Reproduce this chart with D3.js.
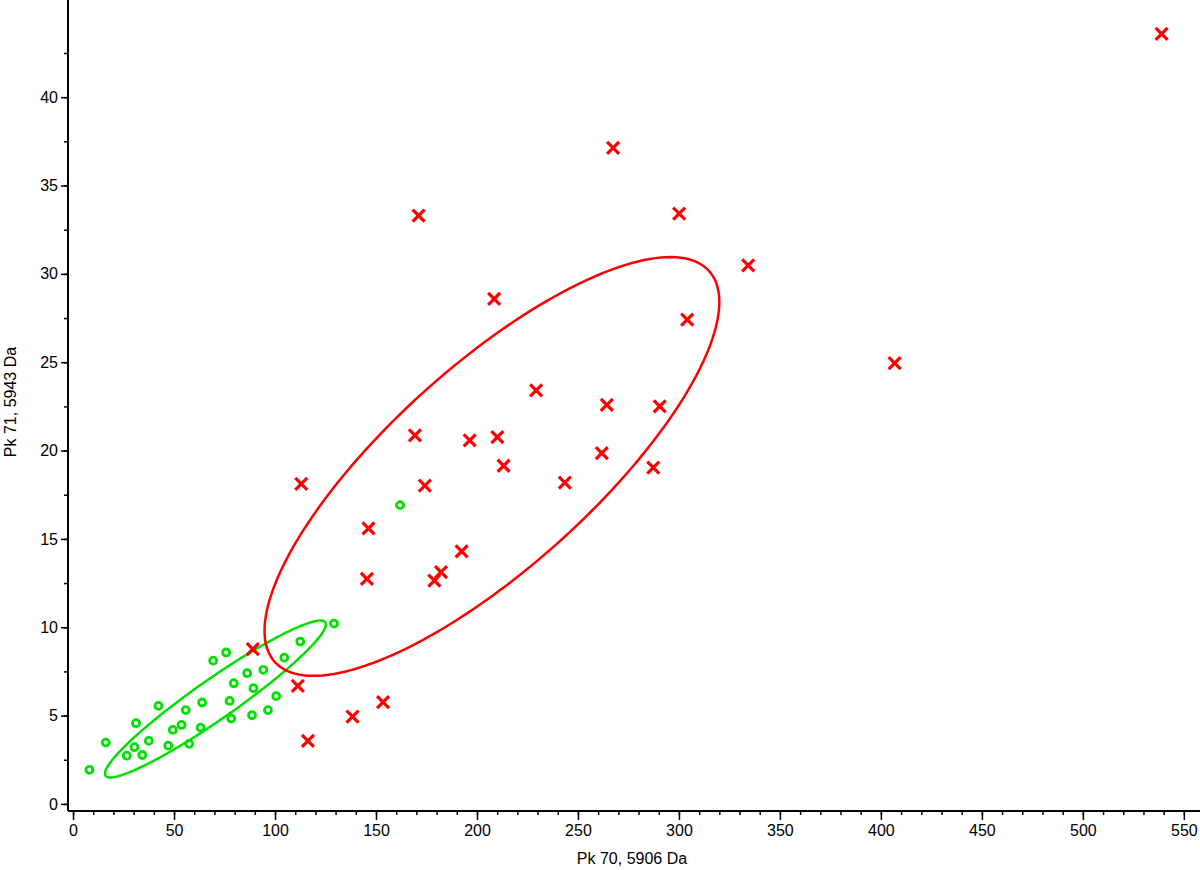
<!DOCTYPE html>
<html>
<head>
<meta charset="utf-8">
<script src="https://cdn.jsdelivr.net/npm/d3@7"></script>
<style>
  html, body { margin: 0; padding: 0; background: #fff; }
  svg { display: block; }
  text { font-family: "Liberation Sans", Arial, sans-serif; fill: #000; }
</style>
</head>
<body>
<svg id="chart" width="1200" height="870"></svg>
<script>
// ---- Data ----
const greenX = [8.1, 16.2, 26.6, 30.4, 34.3, 31.2, 37.5, 42.3, 47.1, 49.4, 53.7, 55.8, 57.5, 63.1, 63.9,
                69.4, 75.8, 77.5, 78.3, 79.6, 86.2, 88.6, 89.3, 94.2, 96.5, 100.6, 104.6, 112.5, 129.2, 161.9];
const greenY = [1.93, 3.47, 2.73, 3.21, 2.77, 4.57, 3.57, 5.55, 3.30, 4.19, 4.47, 5.31, 3.40, 4.32, 5.74,
                8.11, 8.57, 5.83, 4.83, 6.83, 7.40, 5.02, 6.55, 7.59, 5.31, 6.10, 8.28, 9.19, 10.21, 16.91];

const redX = [539.0, 267.4, 171.1, 300.1, 334.3, 208.5, 304.1, 406.8, 229.3, 264.3, 290.5, 169.3, 196.4, 210.1, 213.2,
              261.8, 287.3, 243.5, 174.2, 113.0, 146.3, 192.4, 145.5, 182.2, 178.9, 89.0, 111.3, 138.4, 153.5, 116.3];
const redY = [43.58, 37.13, 33.30, 33.41, 30.48, 28.58, 27.41, 24.95, 23.40, 22.59, 22.50, 20.86, 20.57, 20.76, 19.14,
              19.86, 19.03, 18.19, 18.02, 18.12, 15.59, 14.29, 12.74, 13.12, 12.64, 8.76, 6.68, 4.94, 5.76, 3.57];

// Ellipses: [centerX, centerY, xHalfExtent, yHalfExtent, correlation]
const greenEllipse = [70.5, 5.94, 54.7, 4.44, 0.951];
const redEllipse   = [207.4, 19.1, 112.6, 11.85, 0.785];

const xTickValues = [0, 50, 100, 150, 200, 250, 300, 350, 400, 450, 500, 550];
const yTickValues = [0, 5, 10, 15, 20, 25, 30, 35, 40];
const xMinorTicks = d3.range(0, 551, 10);
const yMinorTicks = d3.range(0, 43, 2.5);

const xTitle = "Pk 70, 5906 Da";
const yTitle = "Pk 71, 5943 Da";

const RED = "#ff0000";
const GREEN = "#00e000";

// ---- Scales ----
const svg = d3.select("#chart");
const x = d3.scaleLinear().domain([-2.5, 558]).range([68, 1200]);
const y = d3.scaleLinear().domain([-0.4, 45.5]).range([811, 0]);

// ---- Axes ----
const xAxisMinor = d3.axisBottom(x).tickValues(xMinorTicks).tickSize(4).tickFormat("");
const xAxis = d3.axisBottom(x).tickValues(xTickValues).tickSize(9).tickPadding(5).tickFormat(d3.format("d"));
const yAxisMinor = d3.axisLeft(y).tickValues(yMinorTicks).tickSize(4).tickFormat("");
const yAxis = d3.axisLeft(y).tickValues(yTickValues).tickSize(7).tickPadding(3).tickFormat(d3.format("d"));

function styleAxis(g) {
  g.selectAll("path").attr("stroke", "#000").attr("stroke-width", 2);
  g.selectAll("line").attr("stroke", "#000").attr("stroke-width", 1.5);
  g.selectAll("text").style("font-size", "16px").attr("fill", "#000")
    .style("font-family", '"Liberation Sans", Arial, sans-serif');
}

svg.append("g").attr("transform", "translate(0,811)").call(xAxisMinor).call(styleAxis)
  .call(g => g.select(".domain").remove());
svg.append("g").attr("transform", "translate(0,811)").call(xAxis).call(styleAxis)
  .call(g => g.select(".domain").attr("d", "M68,0H1200"));
svg.append("g").attr("transform", "translate(68,0)").call(yAxisMinor).call(styleAxis)
  .call(g => g.select(".domain").remove());
svg.append("g").attr("transform", "translate(68,0)").call(yAxis).call(styleAxis)
  .call(g => g.select(".domain").attr("d", "M0,0V811"));

// Axis titles
svg.append("text").attr("x", 632).attr("y", 864).attr("text-anchor", "middle")
  .style("font-size", "16px").text(xTitle);
svg.append("text").attr("transform", "translate(16,402) rotate(-90)").attr("text-anchor", "middle")
  .style("font-size", "16px").text(yTitle);

// ---- Ellipses ----
function ellipsePoints(e) {
  const [cx, cy, rx, ry, rho] = e;
  const s = Math.sqrt(1 - rho * rho);
  return d3.range(0, 361, 2).map(deg => {
    const t = deg * Math.PI / 180;
    return [cx + rx * Math.cos(t), cy + ry * (rho * Math.cos(t) + s * Math.sin(t))];
  });
}
const line = d3.line().x(d => x(d[0])).y(d => y(d[1])).curve(d3.curveLinearClosed);

svg.append("path").attr("d", line(ellipsePoints(greenEllipse)))
  .attr("fill", "none").attr("stroke", GREEN).attr("stroke-width", 2.5);
svg.append("path").attr("d", line(ellipsePoints(redEllipse)))
  .attr("fill", "none").attr("stroke", RED).attr("stroke-width", 2.5);

// ---- Points ----
const greenData = greenX.map((v, i) => ({ x: v, y: greenY[i] }));
const redData = redX.map((v, i) => ({ x: v, y: redY[i] }));

svg.append("g").selectAll("circle").data(greenData).join("circle")
  .attr("cx", d => x(d.x)).attr("cy", d => y(d.y)).attr("r", 3.5)
  .attr("fill", "none").attr("stroke", GREEN).attr("stroke-width", 2.8);

const s = 6;
svg.append("g").selectAll("path").data(redData).join("path")
  .attr("d", d => {
    const px = x(d.x), py = y(d.y);
    return `M${px - s},${py - s}L${px + s},${py + s}M${px - s},${py + s}L${px + s},${py - s}`;
  })
  .attr("fill", "none").attr("stroke", RED).attr("stroke-width", 3.2);
</script>
</body>
</html>
